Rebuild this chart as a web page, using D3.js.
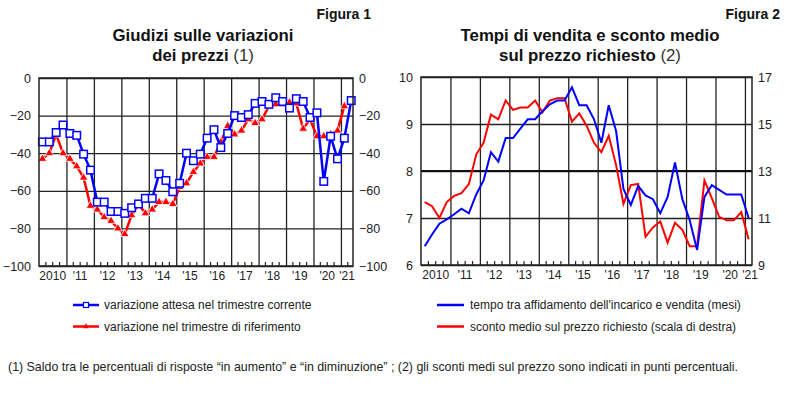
<!DOCTYPE html>
<html>
<head>
<meta charset="utf-8">
<script src="https://cdn.jsdelivr.net/npm/d3@7"></script>
<style>
  body { margin: 0; background: #fff; }
  svg { display: block; font-family: "Liberation Sans", Arial, sans-serif; }
  .grid line { stroke: #222; stroke-width: 1.3; }
  .tick text { fill: #222; }
</style>
</head>
<body>
<svg id="chart" width="800" height="393"></svg>
<script>
// quarterly periods (first one is 2010 Q1)
const years = d3.range(2010, 2022);
const quarters = years.flatMap(y => [1, 2, 3, 4].map(q => ({ year: y, q: q })));
const yearLabels = ["2010", "'11", "'12", "'13", "'14", "'15", "'16", "'17", "'18", "'19", "'20", "'21"];

// Figura 1: saldo giudizi (%)
const attesa = [-34, -34, -29, -25, -29.5, -30.5, -40.5, -49, -66, -66,
  -71, -71, -72, -69, -67, -64, -64, -51, -54.5, -60.5,
  -56, -40, -44, -40.5, -32, -27.5, -37, -29.5, -20, -21,
  -19.5, -13.5, -12.5, -14, -10.5, -12.5, -16, -11, -12.5, -21,
  -18.5, -55, -31, -43, -32, -12];
const riferimento = [-43, -40, -30, -40, -43, -47, -53, -68, -70, -74,
  -76, -80, -83, -73, -67, -72, -70, -66, -66, -67,
  -58, -56, -50, -45.5, -42, -42, -34, -25.5, -30, -28,
  -22, -24, -22, -15, -14, -14, -13, -13.5, -27, -22,
  -31, -31, -30, -28, -15];
const ticks1 = [0, -20, -40, -60, -80, -100];

// Figura 2: mesi (sinistra) e sconto % (destra)
const tempo = [6.40, 6.65, 6.88, 6.97, 7.08, 7.2, 7.1, 7.5, 7.8, 8.4,
  8.2, 8.7, 8.7, 8.9, 9.1, 9.1, 9.27, 9.42, 9.5, 9.5,
  9.78, 9.4, 9.4, 9.1, 8.6, 9.4, 8.85, 7.62, 7.28, 7.68,
  7.48, 7.4, 7.1, 7.45, 8.18, 7.4, 6.95, 6.32, 7.45, 7.7,
  7.6, 7.5, 7.5, 7.5, 7.0];
const sconto = [11.68, 11.5, 11.0, 11.68, 11.94, 12.06, 12.44, 13.7, 14.2, 15.4,
  15.2, 16.0, 15.6, 15.7, 15.7, 16.0, 15.5, 16.0, 16.1, 16.1,
  15.1, 15.45, 14.93, 14.2, 13.8, 14.5, 13.25, 11.6, 12.4, 12.45,
  10.2, 10.6, 10.85, 9.95, 10.8, 10.5, 9.8, 9.8, 12.6, 11.85,
  11.05, 10.9, 10.9, 11.25, 10.1];
const ticksLeft2 = [10, 9, 8, 7, 6];
const ticksRight2 = [17, 15, 13, 11, 9];

const BLUE = "#0000ff", RED = "#ff0000";
const svg = d3.select("#chart");
const pos = d => d.year + (d.q - 1) / 4 + 0.125;

function frame(g, x, y, box, yTicks, lastX) {
  // horizontal grid
  g.append("g").attr("class", "grid")
    .attr("transform", `translate(${box.left},0)`)
    .call(d3.axisLeft(y).tickValues(yTicks).tickSize(-(box.right - box.left)).tickFormat(""))
    .call(s => s.select(".domain").remove());
  // vertical grid at year starts
  g.append("g").attr("class", "grid")
    .attr("transform", `translate(0,${box.bottom})`)
    .call(d3.axisBottom(x).tickValues(d3.range(2011, 2022)).tickSize(-(box.bottom - box.top)).tickFormat(""))
    .call(s => s.select(".domain").remove());
  // quarter ticks
  const qt = quarters.map(d => d.year + (d.q - 1) / 4).filter(v => v > x.domain()[0] && v < x.domain()[1] && v % 1 !== 0);
  g.append("g").selectAll("line").data(qt).join("line")
    .attr("x1", d => x(d)).attr("x2", d => x(d))
    .attr("y1", box.bottom).attr("y2", box.bottom - 4)
    .attr("stroke", "#222").attr("stroke-width", 1.2);
  // year labels
  g.append("g").selectAll("text").data(yearLabels).join("text")
    .attr("x", (d, i) => i === yearLabels.length - 1 ? lastX : x(2010 + i + 0.5))
    .attr("y", box.bottom + 14)
    .attr("text-anchor", "middle").attr("font-size", 12).attr("fill", "#222")
    .text(d => d);
}

function border(g, box) {
  g.append("rect")
    .attr("x", box.left).attr("y", box.top)
    .attr("width", box.right - box.left).attr("height", box.bottom - box.top)
    .attr("fill", "none").attr("stroke", "#222").attr("stroke-width", 1.5);
}

function yLabels(g, scale, values, x, side) {
  const ax = side === "left" ? d3.axisLeft(scale) : d3.axisRight(scale);
  g.append("g").attr("transform", `translate(${x},0)`)
    .call(ax.tickValues(values).tickSize(0).tickPadding(side === "left" ? 8 : 6).tickFormat(d3.format("d")))
    .call(s => s.select(".domain").remove())
    .selectAll("text").attr("font-size", 12.5).style("font-family", "inherit");
}

function title(cx, lines, fig, figX) {
  svg.append("text").attr("x", figX).attr("y", 19).attr("text-anchor", "end")
    .attr("font-size", 14).attr("font-weight", "bold").attr("fill", "#111").text(fig);
  lines.forEach((l, i) => {
    const t = svg.append("text").attr("x", cx).attr("y", 41 + i * 19.5)
      .attr("text-anchor", "middle").attr("font-size", 16.8).attr("fill", "#111");
    t.append("tspan").attr("font-weight", "bold").text(l[0]);
    if (l[1]) t.append("tspan").attr("fill", "#333").text(l[1]);
  });
}

// ---------- Figura 1 ----------
const box1 = { left: 39, right: 353, top: 78, bottom: 266 };
const x1 = d3.scaleLinear().domain([2010, 2021.44]).range([box1.left, box1.right]);
const y1 = d3.scaleLinear().domain([-100, 0]).range([box1.bottom, box1.top]);
const g1 = svg.append("g");
frame(g1, x1, y1, box1, ticks1, 347);
yLabels(g1, y1, ticks1, box1.left, "left");
yLabels(g1, y1, ticks1, box1.right, "right");

const line1 = d3.line().x((d, i) => x1(pos(quarters[i]))).y(d => y1(d));
g1.append("path").datum(riferimento).attr("d", line1)
  .attr("fill", "none").attr("stroke", RED).attr("stroke-width", 2.5);
g1.append("g").selectAll("path").data(riferimento).join("path")
  .attr("d", d3.symbol(d3.symbolTriangle, 32))
  .attr("transform", (d, i) => `translate(${x1(pos(quarters[i]))},${y1(d)})`)
  .attr("fill", RED).attr("stroke", "#fff").attr("stroke-width", 0.8);
g1.append("path").datum(attesa).attr("d", line1)
  .attr("fill", "none").attr("stroke", BLUE).attr("stroke-width", 2.5);
g1.append("g").selectAll("rect").data(attesa).join("rect")
  .attr("x", (d, i) => x1(pos(quarters[i])) - 3.75).attr("y", d => y1(d) - 3.75)
  .attr("width", 7.5).attr("height", 7.5)
  .attr("fill", "#fff").attr("stroke", BLUE).attr("stroke-width", 1.5);
border(g1, box1);
title(203, [["Giudizi sulle variazioni"], ["dei prezzi", " (1)"]], "Figura 1", 371);

// legend 1
const leg1 = [
  { label: "variazione attesa nel trimestre corrente", color: BLUE, mark: "square" },
  { label: "variazione nel trimestre di riferimento", color: RED, mark: "triangle" }
];
leg1.forEach((d, i) => {
  const yy = 305 + i * 21.5;
  svg.append("line").attr("x1", 73).attr("x2", 99).attr("y1", yy).attr("y2", yy)
    .attr("stroke", d.color).attr("stroke-width", 2.5);
  if (d.mark === "square") {
    svg.append("rect").attr("x", 83.5).attr("y", yy - 2.5).attr("width", 5).attr("height", 5)
      .attr("fill", "#fff").attr("stroke", d.color).attr("stroke-width", 1.2);
  } else {
    svg.append("path").attr("d", d3.symbol(d3.symbolTriangle, 14))
      .attr("transform", `translate(86,${yy})`).attr("fill", d.color);
  }
  svg.append("text").attr("x", 104).attr("y", yy + 4).attr("font-size", 12).attr("fill", "#222").text(d.label);
});

// ---------- Figura 2 ----------
const box2 = { left: 421, right: 752, top: 77, bottom: 265 };
const x2 = d3.scaleLinear().domain([2010, 2021.24]).range([box2.left, box2.right]);
const y2 = d3.scaleLinear().domain([6, 10]).range([box2.bottom, box2.top]);
const y2r = d3.scaleLinear().domain([9, 17]).range([box2.bottom, box2.top]);
const g2 = svg.append("g");
frame(g2, x2, y2, box2, ticksLeft2, 750);
g2.append("line").attr("x1", box2.left).attr("x2", box2.right).attr("y1", y2(8)).attr("y2", y2(8))
  .attr("stroke", "#111").attr("stroke-width", 2.2);
yLabels(g2, y2, ticksLeft2, box2.left, "left");
yLabels(g2, y2r, ticksRight2, box2.right, "right");

g2.append("path").datum(sconto)
  .attr("d", d3.line().x((d, i) => x2(pos(quarters[i]))).y(d => y2r(d)))
  .attr("fill", "none").attr("stroke", RED).attr("stroke-width", 2);
g2.append("path").datum(tempo)
  .attr("d", d3.line().x((d, i) => x2(pos(quarters[i]))).y(d => y2(d)))
  .attr("fill", "none").attr("stroke", BLUE).attr("stroke-width", 2);
border(g2, box2);
title(590, [["Tempi di vendita e sconto medio"], ["sul prezzo richiesto", " (2)"]], "Figura 2", 780);

const leg2 = [
  { label: "tempo tra affidamento dell'incarico e vendita (mesi)", color: BLUE },
  { label: "sconto medio sul prezzo richiesto (scala di destra)", color: RED }
];
leg2.forEach((d, i) => {
  const yy = 305 + i * 21.5;
  svg.append("line").attr("x1", 437).attr("x2", 464).attr("y1", yy).attr("y2", yy)
    .attr("stroke", d.color).attr("stroke-width", 2.5);
  svg.append("text").attr("x", 470).attr("y", yy + 4).attr("font-size", 12).attr("fill", "#222").text(d.label);
});

// nota
svg.append("text").attr("x", 8).attr("y", 371).attr("font-size", 12.4).attr("fill", "#222")
  .text("(1) Saldo tra le percentuali di risposte \u201cin aumento\u201d e \u201cin diminuzione\u201d ; (2) gli sconti medi sul prezzo sono indicati in punti percentuali.");
</script>
</body>
</html>
